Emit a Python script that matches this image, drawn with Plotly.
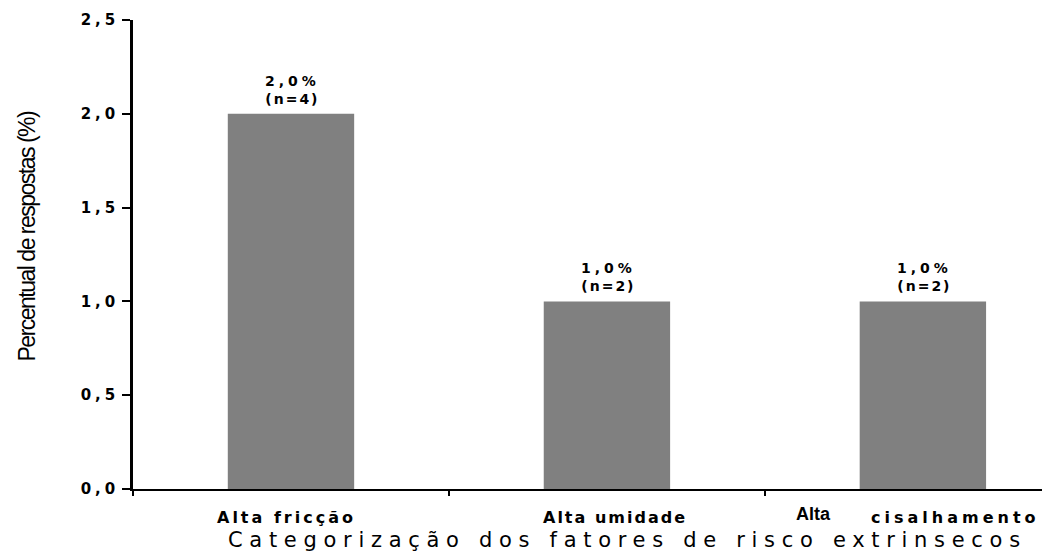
import plotly.graph_objects as go

# Data
categories = ["Alta fricção", "Alta umidade", "Alta cisalhamento"]
percent = [2.0, 1.0, 1.0]
counts = [4, 2, 2]
y_ticks = [0.0, 0.5, 1.0, 1.5, 2.0, 2.5]
y_tick_labels = ["0,0", "0,5", "1,0", "1,5", "2,0", "2,5"]

BAR_COLOR = "#808080"
WIDE = "DejaVu Sans"
PLAIN = "Liberation Sans"


def spaced(text, px):
    return f'<span style="letter-spacing:{px}px">{text}</span>'


def fmt_pct(v):
    return f"{v:.1f}".replace(".", ",") + "%"


fig = go.Figure(
    go.Bar(
        x=categories,
        y=percent,
        width=0.4,
        marker=dict(color=BAR_COLOR, line=dict(width=0)),
        hoverinfo="skip",
    )
)

annotations = []

# value labels above the bars
for cat, v, n in zip(categories, percent, counts):
    annotations.append(dict(
        x=cat, y=v, xref="x", yref="y",
        text=spaced(fmt_pct(v), 4) + "<br>" + spaced(f"(n={n})", 2),
        showarrow=False, yanchor="bottom", yshift=5, xshift=2,
        font=dict(family=WIDE, size=14, color="black", weight="bold"),
        align="center",
    ))

# category labels under the axis
cat_font = dict(family=WIDE, size=16, color="black", weight="bold")
annotations.append(dict(
    x=categories[0], y=0, xref="x", yref="paper", yanchor="middle",
    yshift=-28, xshift=-4, showarrow=False,
    text=spaced("Alta fricção", 3), font=cat_font,
))
annotations.append(dict(
    x=categories[1], y=0, xref="x", yref="paper", yanchor="middle",
    yshift=-28, xshift=8, showarrow=False,
    text=spaced("Alta umidade", 2), font=cat_font,
))
first, rest = categories[2].split(" ", 1)
annotations.append(dict(
    x=categories[2], y=0, xref="x", yref="paper", yanchor="middle",
    xanchor="right", yshift=-25, xshift=-90, showarrow=False,
    text=first, font=dict(family=PLAIN, size=18, color="black", weight="bold"),
))
annotations.append(dict(
    x=categories[2], y=0, xref="x", yref="paper", yanchor="middle",
    xanchor="left", yshift=-28, xshift=-54, showarrow=False,
    text=spaced(rest, 4), font=cat_font,
))

# axis titles
annotations.append(dict(
    x=0, y=0.5, xref="paper", yref="paper", xanchor="center", yanchor="middle",
    xshift=-107, yshift=18, textangle=-90, showarrow=False,
    text=spaced("Percentual de respostas (%)", -1.5),
    font=dict(family=PLAIN, size=23, color="black"),
))
annotations.append(dict(
    x=0.5, y=0, xref="paper", yref="paper", xanchor="center", yanchor="middle",
    xshift=40, yshift=-51, showarrow=False,
    text=spaced("Categorização dos fatores de risco extrinsecos", 6.7),
    font=dict(family=WIDE, size=21, color="black"),
))

fig.update_layout(
    width=1042, height=555,
    margin=dict(l=133, r=0, t=20, b=66),
    paper_bgcolor="white", plot_bgcolor="white",
    showlegend=False,
    annotations=annotations,
)

fig.update_xaxes(
    range=[-0.5, 2.377],
    showline=True, linecolor="black", linewidth=2,
    ticks="outside", tickson="boundaries", ticklen=5, tickwidth=2, tickcolor="black",
    showticklabels=False, showgrid=False, zeroline=False,
)

fig.update_yaxes(
    range=[0, 2.5],
    tickvals=y_ticks,
    ticktext=[spaced(t, 4) for t in y_tick_labels],
    tickfont=dict(family=WIDE, size=15, color="black", weight="bold"),
    showline=True, linecolor="black", linewidth=2.5,
    ticks="outside", ticklen=8, tickwidth=2, tickcolor="black",
    ticklabelstandoff=0,
    showgrid=False, zeroline=False,
)

fig.write_html("out.html")
